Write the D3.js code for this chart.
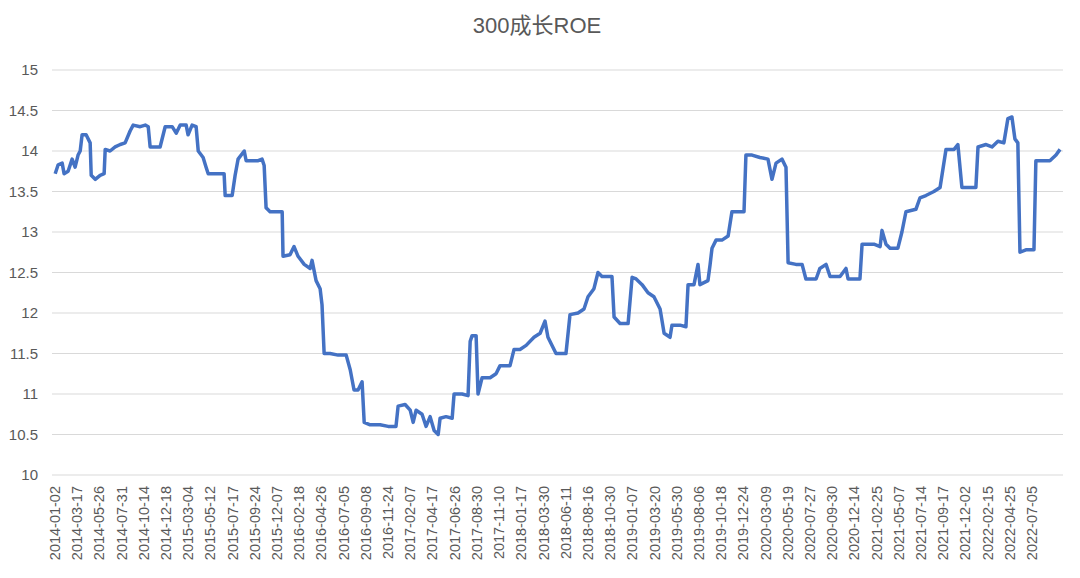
<!DOCTYPE html>
<html><head><meta charset="utf-8">
<script src="https://cdn.jsdelivr.net/npm/d3@7/dist/d3.min.js"></script>
<style>body{margin:0;background:#fff;font-family:"Liberation Sans","Noto Sans CJK SC",sans-serif}</style>
</head><body><svg id="c" width="1080" height="578"></svg>
<script>
const tickLabels=["2014-01-02","2014-03-17","2014-05-26","2014-07-31","2014-10-14","2014-12-18","2015-03-04","2015-05-12","2015-07-17","2015-09-24","2015-12-07","2016-02-18","2016-04-26","2016-07-05","2016-09-08","2016-11-24","2017-02-07","2017-04-17","2017-06-26","2017-08-30","2017-11-10","2018-01-17","2018-03-30","2018-06-11","2018-08-16","2018-10-30","2019-01-07","2019-03-20","2019-05-30","2019-08-06","2019-10-18","2019-12-24","2020-03-09","2020-05-19","2020-07-27","2020-09-30","2020-12-14","2021-02-25","2021-05-07","2021-07-14","2021-09-17","2021-12-02","2022-02-15","2022-04-25","2022-07-05"];
const yTicks=[10,10.5,11,11.5,12,12.5,13,13.5,14,14.5,15];
// position along the time axis (index units)
const pos=[0,.14,.33,.42,.61,.8,.94,1.08,1.18,1.27,1.46,1.65,1.70,1.89,2.12,2.31,2.36,2.59,2.83,3.07,3.30,3.54,3.68,4.01,4.25,4.39,4.48,4.95,5.19,5.52,5.71,5.90,6.18,6.27,6.46,6.65,6.75,6.98,7.12,7.22,7.78,7.97,8.02,8.35,8.49,8.63,8.92,9.01,9.29,9.58,9.76,9.86,9.95,10.14,10.71,10.75,11.08,11.27,11.46,11.75,12.03,12.12,12.31,12.5,12.59,12.69,12.97,13.35,13.73,13.92,14.10,14.29,14.48,14.58,14.86,15.33,15.71,16.08,16.18,16.51,16.75,16.89,17.03,17.31,17.5,17.69,17.88,18.07,18.16,18.44,18.73,18.82,19.2,19.48,19.58,19.67,19.86,19.95,20.14,20.52,20.80,20.99,21.46,21.65,21.93,22.22,22.59,22.88,23.11,23.25,23.63,24.10,24.29,24.67,24.95,25.14,25.42,25.61,25.80,26.27,26.37,26.65,27.03,27.22,27.41,27.69,27.97,28.25,28.54,28.73,29.01,29.10,29.48,29.76,29.86,30.14,30.33,30.42,30.80,30.90,30.99,31.18,31.46,31.75,31.93,32.5,32.59,32.88,33.25,33.63,33.82,34.01,34.29,34.48,34.58,34.95,35.24,35.42,35.90,36.08,36.37,36.56,37.03,37.31,37.41,37.97,38.07,38.63,38.92,39.01,39.2,39.39,39.76,39.95,40.14,40.61,40.8,41.08,41.46,41.75,42.03,42.41,42.59,42.78,43.44,43.54,43.92,44.2,44.48,44.76,44.95,45.14,45.28,45.42,45.52,45.80,46.18,46.27,46.65,46.93,47.22,47.41];
const roe=[13.72,13.83,13.85,13.72,13.75,13.9,13.8,13.95,14.0,14.2,14.2,14.1,13.7,13.65,13.7,13.72,14.02,14.0,14.05,14.08,14.1,14.25,14.32,14.3,14.32,14.3,14.05,14.05,14.3,14.3,14.22,14.32,14.32,14.2,14.32,14.3,14.0,13.92,13.8,13.72,13.72,13.72,13.45,13.45,13.7,13.9,14.0,13.88,13.88,13.88,13.9,13.82,13.3,13.25,13.25,12.7,12.72,12.82,12.7,12.6,12.55,12.65,12.4,12.3,12.1,11.5,11.5,11.48,11.48,11.3,11.05,11.05,11.15,10.65,10.62,10.62,10.6,10.6,10.85,10.87,10.8,10.65,10.8,10.75,10.6,10.72,10.55,10.5,10.7,10.72,10.7,11.0,11.0,10.98,11.65,11.72,11.72,11.0,11.2,11.2,11.25,11.35,11.35,11.55,11.55,11.6,11.7,11.75,11.9,11.7,11.5,11.5,11.98,12.0,12.05,12.2,12.3,12.5,12.45,12.45,11.95,11.87,11.87,12.44,12.42,12.35,12.25,12.2,12.05,11.75,11.7,11.85,11.85,11.83,12.35,12.35,12.6,12.35,12.4,12.6,12.8,12.9,12.9,12.95,13.25,13.25,13.95,13.95,13.92,13.9,13.65,13.85,13.9,13.8,12.62,12.6,12.6,12.42,12.42,12.55,12.6,12.45,12.45,12.55,12.42,12.42,12.85,12.85,12.82,13.02,12.85,12.8,12.8,13.0,13.25,13.28,13.42,13.45,13.5,13.55,14.02,14.02,14.08,13.55,13.55,14.05,14.08,14.05,14.12,14.1,14.4,14.42,14.15,14.1,12.75,12.78,12.78,13.88,13.88,13.88,13.95,14.02];

const svg=d3.select("#c");
const x=d3.scaleLinear().domain([-0.15,47.55]).range([52,1063]);
const xl=d3.scalePoint().domain(tickLabels).range([55,1032]);
const y=d3.scaleLinear().domain([10,15]).range([475,70]);
svg.append("text").attr("x",537).attr("y",33).attr("text-anchor","middle").attr("font-size",22).attr("fill","#595959").text("300成长ROE");
svg.append("g").selectAll("line").data(yTicks).join("line")
 .attr("x1",52).attr("x2",1063).attr("y1",d=>y(d)).attr("y2",d=>y(d)).attr("stroke","#d9d9d9").attr("stroke-width",1);
svg.append("g").selectAll("text").data(yTicks).join("text")
 .attr("x",38).attr("y",d=>y(d)+5).attr("text-anchor","end").attr("font-size",15).attr("fill","#595959").text(d=>d);
svg.append("g").selectAll("text").data(tickLabels).join("text")
 .attr("transform",d=>`translate(${xl(d)+5},486) rotate(-90)`).attr("text-anchor","end")
 .attr("font-size",14.5).attr("fill","#595959").text(d=>d);
const pts=pos.map((p,i)=>[p,roe[i]]);
svg.append("path").datum(pts).attr("fill","none").attr("stroke","#4472C4").attr("stroke-width",3.5).attr("stroke-linejoin","round")
 .attr("d",d3.line().x(d=>x(d[0])).y(d=>y(d[1])));
</script></body></html>
